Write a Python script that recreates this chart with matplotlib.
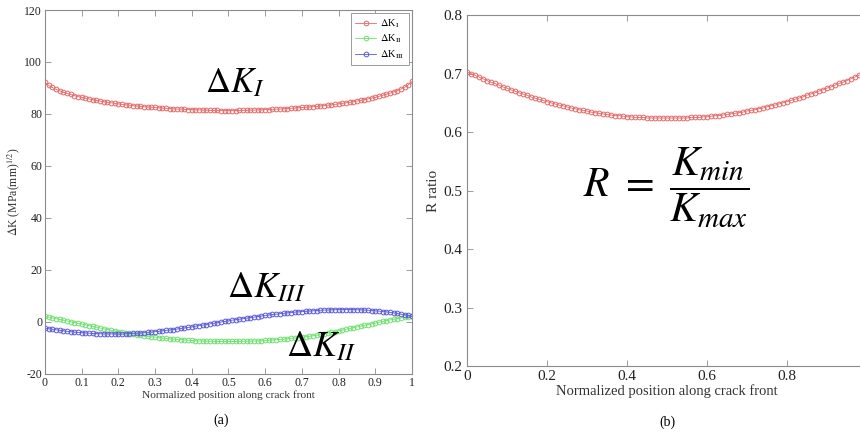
import numpy as np
import matplotlib.pyplot as plt

plt.rcParams['font.family'] = ['Liberation Serif', 'DejaVu Serif']
plt.rcParams['mathtext.fontset'] = 'stix'
plt.rcParams['axes.unicode_minus'] = False

# normalized position along the crack front (101 nodes)
pos = np.linspace(0, 1, 101)

dK1 = [92.2, 91.0, 90.2, 89.5, 88.9, 88.4, 87.9, 87.5, 87.1, 86.7,
       86.4, 86.1, 85.8, 85.5, 85.2, 85.0, 84.7, 84.5, 84.3, 84.1,
       83.9, 83.7, 83.5, 83.4, 83.2, 83.1, 82.9, 82.8, 82.7, 82.6,
       82.5, 82.4, 82.3, 82.2, 82.1, 82.0, 81.9, 81.9, 81.8, 81.7,
       81.7, 81.6, 81.6, 81.5, 81.5, 81.4, 81.4, 81.4, 81.3, 81.3,
       81.3,
       81.3, 81.3, 81.4, 81.4, 81.4, 81.5, 81.5, 81.6, 81.6, 81.7,
       81.7, 81.8, 81.9, 81.9, 82.0, 82.1, 82.2, 82.3, 82.4, 82.5,
       82.6, 82.7, 82.8, 82.9, 83.1, 83.2, 83.4, 83.5, 83.7, 83.9,
       84.1, 84.3, 84.5, 84.7, 85.0, 85.2, 85.5, 85.8, 86.1, 86.4,
       86.8, 87.2, 87.6, 88.0, 88.5, 89.0, 89.6, 90.3, 91.2, 92.5]

dK2 = [2.2, 1.9, 1.6, 1.3, 1.0, 0.7, 0.4, 0.1, -0.2, -0.5,
       -0.8, -1.1, -1.4, -1.7, -2.0, -2.3, -2.6, -2.9, -3.2, -3.4,
       -3.7, -3.9, -4.2, -4.4, -4.6, -4.9, -5.1, -5.3, -5.5, -5.7,
       -5.8, -6.0, -6.2, -6.3, -6.5, -6.6, -6.7, -6.8, -6.9, -7.0,
       -7.1, -7.2, -7.3, -7.3, -7.4, -7.4, -7.5, -7.5, -7.5, -7.5,
       -7.5,
       -7.5, -7.5, -7.5, -7.4, -7.4, -7.4, -7.3, -7.3, -7.2, -7.1,
       -7.0, -6.9, -6.8, -6.7, -6.6, -6.5, -6.3, -6.2, -6.0, -5.9,
       -5.7, -5.5, -5.3, -5.1, -4.8, -4.6, -4.3, -4.0, -3.7, -3.4,
       -3.1, -2.8, -2.5, -2.2, -1.9, -1.6, -1.3, -1.0, -0.7, -0.4,
       -0.1, 0.2, 0.5, 0.8, 1.0, 1.3, 1.5, 1.8, 2.0, 2.2]

dK3 = [-2.4, -2.6, -2.8, -3.0, -3.2, -3.4, -3.6, -3.7, -3.9, -4.0,
       -4.1, -4.2, -4.3, -4.4, -4.5, -4.5, -4.6, -4.6, -4.6, -4.6,
       -4.6, -4.6, -4.5, -4.5, -4.4, -4.3, -4.2, -4.1, -4.0, -3.9,
       -3.7, -3.6, -3.4, -3.2, -3.1, -2.9, -2.7, -2.5, -2.3, -2.1,
       -1.9, -1.6, -1.4, -1.2, -1.0, -0.7, -0.5, -0.3, 0.0, 0.2,
       0.4,
       0.7, 0.9, 1.1, 1.3, 1.5, 1.7, 1.9, 2.1, 2.3, 2.5,
       2.7, 2.9, 3.0, 3.2, 3.3, 3.5, 3.6, 3.8, 3.9, 4.0,
       4.1, 4.2, 4.3, 4.4, 4.5, 4.6, 4.6, 4.7, 4.7, 4.8,
       4.8, 4.8, 4.8, 4.8, 4.7, 4.7, 4.6, 4.5, 4.4, 4.3,
       4.2, 4.0, 3.9, 3.7, 3.5, 3.3, 3.0, 2.8, 2.5, 2.2]

r_ratio = [0.703, 0.700, 0.697, 0.694, 0.691, 0.688, 0.685, 0.683, 0.680, 0.677,
           0.675, 0.672, 0.670, 0.667, 0.665, 0.663, 0.660, 0.658, 0.656, 0.654,
           0.652, 0.650, 0.648, 0.646, 0.645, 0.643, 0.641, 0.640, 0.638, 0.637,
           0.636, 0.634, 0.633, 0.632, 0.631, 0.630, 0.629, 0.628, 0.628, 0.627,
           0.626, 0.626, 0.625, 0.625, 0.625, 0.624, 0.624, 0.624, 0.624, 0.624,
           0.624,
           0.624, 0.624, 0.624, 0.624, 0.624, 0.625, 0.625, 0.625, 0.626, 0.626,
           0.627, 0.628, 0.628, 0.629, 0.630, 0.631, 0.632, 0.633, 0.634, 0.636,
           0.637, 0.638, 0.640, 0.641, 0.643, 0.645, 0.646, 0.648, 0.650, 0.652,
           0.654, 0.656, 0.658, 0.660, 0.663, 0.665, 0.667, 0.670, 0.672, 0.675,
           0.677, 0.680, 0.683, 0.685, 0.688, 0.691, 0.694, 0.697, 0.700, 0.703]

left_xticks = [0, 0.1, 0.2, 0.3, 0.4, 0.5, 0.6, 0.7, 0.8, 0.9, 1]
left_xlabels = ['0', '0.1', '0.2', '0.3', '0.4', '0.5', '0.6', '0.7', '0.8', '0.9', '1']
left_yticks = [-20, 0, 20, 40, 60, 80, 100, 120]
# the figure is cropped just before x = 1 on panel (b)
right_xticks = [0, 0.2, 0.4, 0.6, 0.8]
right_xlabels = ['0', '0.2', '0.4', '0.6', '0.8']
right_yticks = [0.2, 0.3, 0.4, 0.5, 0.6, 0.7, 0.8]

RED = '#e46a6a'
GREEN = '#6fe06f'
BLUE = '#5a5ad8'
SPINE = '#8c8c8c'


def matlab_style(ax):
    for s in ax.spines.values():
        s.set_color(SPINE)
        s.set_linewidth(0.8)
    ax.tick_params(direction='in', colors=SPINE, labelcolor='#222222',
                   top=True, right=True, length=4, width=0.6)


fig = plt.figure(figsize=(8.6, 4.33), dpi=100)

# ---- (a) stress intensity factor ranges
ax1 = fig.add_axes([0.0523, 0.1363, 0.4267, 0.8406])
mk = dict(marker='o', markersize=3.4, markerfacecolor='none', markeredgewidth=0.7, linewidth=0.6)
ax1.plot(pos, dK1, color=RED, label=r'$\Delta$K$_{\mathrm{I}}$', **mk)
ax1.plot(pos, dK2, color=GREEN, label=r'$\Delta$K$_{\mathrm{II}}$', **mk)
ax1.plot(pos, dK3, color=BLUE, label=r'$\Delta$K$_{\mathrm{III}}$', **mk)
ax1.set_xlim(0, 1)
ax1.set_ylim(-20, 120)
ax1.set_xticks(left_xticks)
ax1.set_xticklabels(left_xlabels)
ax1.set_yticks(left_yticks)
matlab_style(ax1)
ax1.tick_params(labelsize=8.5, pad=2)
ax1.set_xlabel('Normalized position along crack front', fontsize=8.2, color='#333333', labelpad=1)
ax1.set_ylabel(r'$\Delta$K (MPa(mm)$^{1/2}$)', fontsize=8.5, color='#333333', labelpad=2)
leg = ax1.legend(loc='upper right', fontsize=7.5, handlelength=2.0, borderpad=0.4,
                 labelspacing=0.3, handletextpad=0.4, fancybox=False, framealpha=1,
                 borderaxespad=0.3)
leg.get_frame().set_edgecolor(SPINE)
leg.get_frame().set_linewidth(0.6)

ax1.text(0.436, 88.5, r'$\Delta K_I$', fontsize=25, ha='left', va='baseline')
ax1.text(0.497, 9.6, r'$\Delta K_{III}$', fontsize=26, ha='left', va='baseline')
ax1.text(0.658, -13.3, r'$\Delta K_{II}$', fontsize=26, ha='left', va='baseline')

# ---- (b) R ratio
ax2 = fig.add_axes([0.543, 0.1547, 0.465, 0.8106])
ax2.plot(pos, r_ratio, color=RED, **mk)
ax2.set_xlim(0, 1)
ax2.set_ylim(0.2, 0.8)
ax2.set_xticks(right_xticks)
ax2.set_xticklabels(right_xlabels)
ax2.set_yticks(right_yticks)
matlab_style(ax2)
ax2.tick_params(labelsize=11, pad=3)
ax2.set_xlabel('Normalized position along crack front', fontsize=10.5, color='#333333', labelpad=1)
ax2.set_ylabel('R ratio', fontsize=11, color='#333333', labelpad=3)
ax2.text(0.29, 0.505, r'$R\ =\ \dfrac{K_{min}}{K_{max}}$', fontsize=30, ha='left', va='center')

fig.text(0.257, 0.030, '(a)', fontsize=10, ha='center', va='center')
fig.text(0.776, 0.025, '(b)', fontsize=10, ha='center', va='center')

fig.savefig('out.png', dpi=100)
